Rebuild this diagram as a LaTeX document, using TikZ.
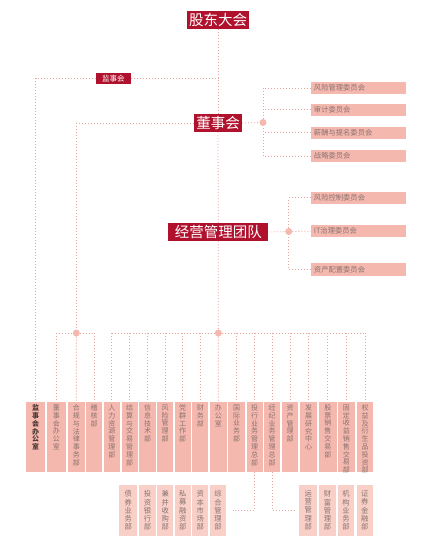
\documentclass[tikz,border=0pt]{standalone}
\usepackage{fontspec}
\newfontfamily\cjk{Noto Sans CJK SC}
\definecolor{dred}{RGB}{176,18,46}
\definecolor{pk}{RGB}{245,184,175}
\definecolor{pkl}{RGB}{248,208,200}
\definecolor{ln}{RGB}{232,168,160}
\definecolor{tg}{RGB}{138,114,110}
\definecolor{tdk}{RGB}{80,58,56}
\tikzset{
  dl/.style={draw=ln, line width=0.8pt, dash pattern=on 0.9pt off 2.1pt},
  topbox/.style={fill=dred, text=white, inner sep=0pt, font=\cjk\fontsize{14.5}{15}\selectfont},
  smallred/.style={fill=dred, text=white, inner sep=0pt, font=\cjk\fontsize{7.5}{8}\selectfont},
  comm/.style={fill=pk, text=tg, inner xsep=3pt, inner ysep=0pt, text width=88.7pt, align=left,
    minimum height=12.3pt, font=\cjk\fontsize{7.3}{8}\selectfont},
  jdot/.style={circle, fill=pk, inner sep=0pt, minimum size=7pt},
  vbox/.style={fill=pk, inner sep=0pt, anchor=north, minimum height=70pt},
  sbox/.style={fill=pkl, inner sep=0pt, anchor=north, minimum height=51pt},
  vt/.style={align=center, inner sep=0pt, anchor=north, text=tg, font=\cjk\fontsize{7}{7.8}\selectfont},
}
\begin{document}
\begin{tikzpicture}[x=1pt,y=-1pt]
\useasboundingbox (0,0) rectangle (440,559);
\fill[white] (0,0) rectangle (440,559);

% top level
\node[topbox, minimum width=62pt, minimum height=18pt] (gd) at (218,20) {股东大会};
\node[topbox, minimum width=48pt, minimum height=18pt] (dsh) at (218,123) {董事会};
\node[topbox, minimum width=100pt, minimum height=18pt] (jy) at (218.3,232) {经营管理团队};
\node[smallred, minimum width=35pt, minimum height=11.5pt] (jsh) at (113.3,78.3) {监事会};

% committees of board
\node[comm] (k1) at (358.3,88) {风险管理委员会};
\node[comm] (k2) at (358.3,109.7) {审计委员会};
\node[comm] (k3) at (358.3,132.7) {薪酬与提名委员会};
\node[comm] (k4) at (358.3,156) {战略委员会};
% committees of management
\node[comm] (m1) at (358.3,197.8) {风险控制委员会};
\node[comm] (m2) at (358.3,231.2) {IT治理委员会};
\node[comm] (m3) at (358.3,269.5) {资产配置委员会};

% junction dots
\node[jdot] (c1) at (263,122.5) {};
\node[jdot] (c2) at (288.7,231.5) {};
\node[jdot] (d1) at (76.35,333) {};
\node[jdot] (d2) at (218.35,333) {};

% department boxes
\foreach \n/\l/\r/\t in {
  b2/46.7/66/{董\\事\\会\\办\\公\\室},
  b3/67.7/85/{合\\规\\与\\法\\律\\事\\务\\部},
  b4/86/102.3/{稽\\核\\部},
  b5/103.7/120/{人\\力\\资\\源\\管\\理\\部},
  b6/121.7/137.7/{结\\算\\与\\交\\易\\管\\理\\部},
  b7/139.3/155.7/{信\\息\\技\\术\\部},
  b8/157/173.3/{风\\险\\管\\理\\部},
  b9/174.7/190.7/{党\\群\\工\\作\\部},
  b10/192.3/208.3/{财\\务\\部},
  b11/210/226.7/{办\\公\\室},
  b12/228.3/245/{国\\际\\业\\务\\部},
  b13/246.7/262.7/{投\\行\\业\\务\\管\\理\\总\\部},
  b14/264.3/280/{经\\纪\\业\\务\\管\\理\\总\\部},
  b15/281.7/298.3/{资\\产\\管\\理\\部},
  b16/300/317.3/{发\\展\\研\\究\\中\\心},
  b17/319/336.7/{股\\票\\销\\售\\交\\易\\部},
  b18/337.7/355/{固\\定\\收\\益\\销\\售\\交\\易\\部},
  b19/356.7/373.3/{权\\益\\及\\衍\\生\\品\\投\\资\\部}}{
  \pgfmathsetmacro\w{\r-\l}
  \pgfmathsetmacro\c{(\r+\l)/2}
  \node[vbox, minimum width=\w pt] (\n) at (\c,401.7) {};
  \node[vt] (\n t) at (\c,404.5) {\t};
}
\node[vbox, minimum width=19pt] (b1) at (35.5,401.7) {};
\node[vt, text=tdk, font=\cjk\bfseries\fontsize{7}{7.8}\selectfont] (b1t) at (35.5,404.5) {监\\事\\会\\办\\公\\室};

% sub-department boxes
\foreach \n/\l/\r/\t in {
  s1/119/137.3/{债\\券\\业\\务\\部},
  s2/139.3/155.7/{投\\资\\银\\行\\部},
  s3/157/173.3/{兼\\并\\收\\购\\部},
  s4/174.7/190.7/{私\\募\\融\\资\\部},
  s5/192.3/208.3/{资\\本\\市\\场\\部},
  s6/210/226/{综\\合\\管\\理\\部},
  s7/299.3/317.3/{运\\营\\管\\理\\部},
  s8/319.3/335.7/{财\\富\\管\\理\\部},
  s9/337.7/354.3/{机\\构\\业\\务\\部},
  s10/356.7/372.7/{证\\券\\金\\融\\部}}{
  \pgfmathsetmacro\w{\r-\l}
  \pgfmathsetmacro\c{(\r+\l)/2}
  \node[sbox, minimum width=\w pt] (\n) at (\c,485) {};
  \node[vt, font=\cjk\fontsize{7.3}{8.2}\selectfont] (\n t) at (\c,490.5) {\t};
}

% main spine
\draw[dl] (gd.south) -- (dsh.north);
\draw[dl] (dsh.south) -- (jy.north);
\draw[dl] (jy.south) -- (d2);
\draw[dl] (d2) -- (b11.north);

% supervisory board
\coordinate (jm) at (218.35,78.3);
\draw[dl] (jsh.east) -- (jm);
\draw[dl] (jsh.west) -| (b1.north);

% board to its office group
\draw[dl] (dsh.west) -| (d1);
\draw[dl] (b2.north |- d1) -- (d1) -- (b4.north |- d1);
\draw[dl] (b2.north |- d1) -- (b2.north);
\draw[dl] (d1) -- (b3.north);
\draw[dl] (b4.north |- d1) -- (b4.north);

% board committees
\draw[dl] (dsh.east) -- (c1);
\draw[dl] (k1.west) -| (c1);
\draw[dl] (k4.west) -| (c1);
\draw[dl] (k2.west) -- (k2.west -| c1);
\draw[dl] (k3.west) -- (k3.west -| c1);

% management committees
\draw[dl] (jy.east) -- (c2);
\draw[dl] (m1.west) -| (c2);
\draw[dl] (m3.west) -| (c2);
\draw[dl] (c2) -- (m2.west);

% management departments
\draw[dl] (b5.north |- d2) -- (d2) -- (b19.north |- d2);
\foreach \b in {b5,b6,b7,b8,b9,b10,b12,b13,b14,b15,b16,b17,b18,b19}{
  \draw[dl] (\b.north |- d2) -- (\b.north);
}

% sub-department links
\draw[dl, shorten >=7pt] (b13.south) |- (s6.east);
\draw[dl, shorten >=2.6pt] (b14.south) |- (s7.west);
\end{tikzpicture}
\end{document}
